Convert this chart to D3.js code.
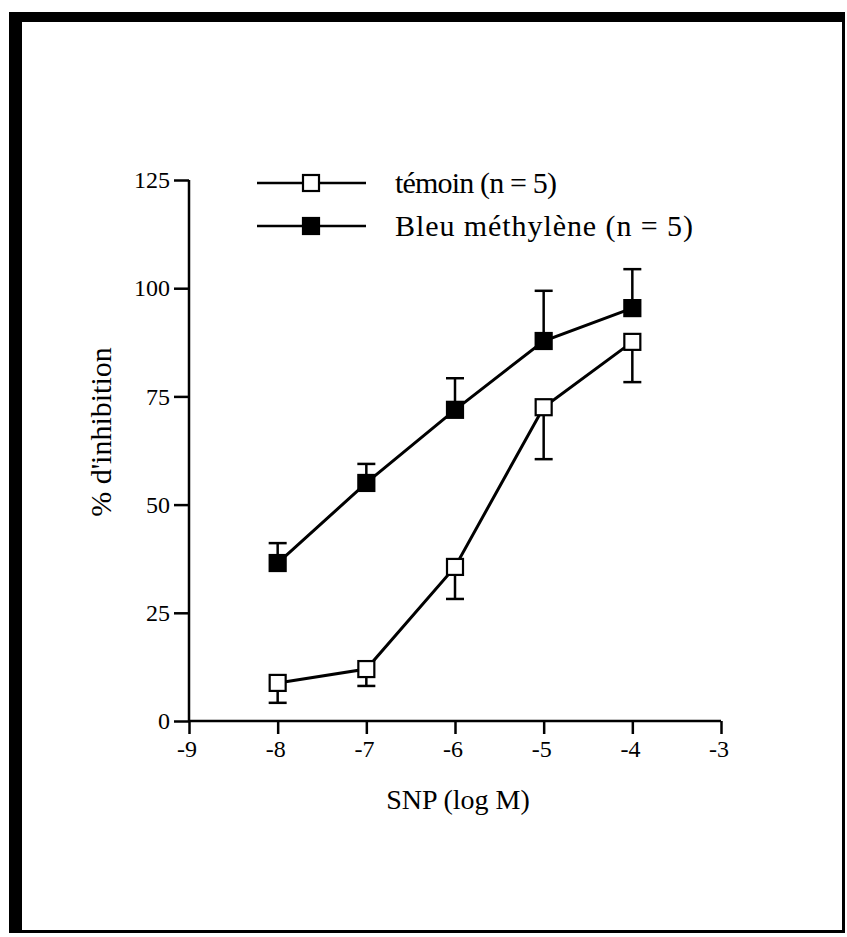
<!DOCTYPE html>
<html>
<head>
<meta charset="utf-8">
<script src="https://cdn.jsdelivr.net/npm/d3@7"></script>
<style>
	body { margin: 0; background: #fff; }
	svg { display: block; }
	text { font-family: "Liberation Serif", "Times New Roman", serif; fill: #000; }
</style>
</head>
<body>
<div id="chart"></div>
<script>

// data
const doses = [-8, -7, -6, -5, -4];
const temoinMean = [8.8, 12.0, 35.6, 72.5, 87.6];
const temoinErr = [4.6, 3.9, 7.4, 12.0, 9.3];
const bleuMean = [36.5, 55.0, 71.9, 87.8, 95.4];
const bleuErr = [4.6, 4.4, 7.3, 11.6, 9.0];
const xTicks = [-9, -8, -7, -6, -5, -4, -3];
const yTicks = [0, 25, 50, 75, 100, 125];
const legendLabels = ['témoin (n = 5)', 'Bleu méthylène (n = 5)'];

const w = 847;
const h = 937;

const svg = d3.select('#chart').append('svg')
	.attr('width', w)
	.attr('height', h);

// scanned page frame
svg.append('rect').attr('x', 9).attr('y', 12).attr('width', 13).attr('height', 921).attr('fill', '#000');
svg.append('rect').attr('x', 9).attr('y', 12).attr('width', 836).attr('height', 10).attr('fill', '#000');
svg.append('rect').attr('x', 842).attr('y', 12).attr('width', 3).attr('height', 921).attr('fill', '#000');
svg.append('rect').attr('x', 9).attr('y', 930).attr('width', 836).attr('height', 3).attr('fill', '#000');

const x = d3.scaleLinear().domain([-9, -3]).range([189, 721]);
const y = d3.scaleLinear().domain([0, 125]).range([721, 180]);

// axes (plain hyphen for negatives, as in the original)
const xAxis = svg.append('g')
	.attr('transform', `translate(0,${y(0)})`)
	.call(d3.axisBottom(x).tickValues(xTicks).tickSize(13).tickPadding(6).tickFormat(d => String(d)));
const yAxis = svg.append('g')
	.attr('transform', `translate(${x(-9)},0)`)
	.call(d3.axisLeft(y).tickValues(yTicks).tickSize(15).tickPadding(4));

[xAxis, yAxis].forEach(g => {
	g.select('.domain').attr('stroke', '#000').attr('stroke-width', 2.5);
	g.selectAll('.tick line').attr('stroke', '#000').attr('stroke-width', 2.5);
	g.selectAll('.tick text')
		.style('font-family', '"Liberation Serif", serif')
		.style('font-size', '24px')
		.attr('fill', '#000');
});
// axis path without the outer end ticks
xAxis.select('.domain').attr('d', `M${x(-9)},0H${x(-3)}`);
yAxis.select('.domain').attr('d', `M0,${y(0)}V${y(125)}`);
xAxis.selectAll('.tick text').attr('dx', '-0.1em');

svg.append('text')
	.attr('x', 458)
	.attr('y', 809)
	.attr('text-anchor', 'middle')
	.style('font-size', '28px')
	.text('SNP (log M)');

svg.append('text')
	.attr('transform', `translate(111,432) rotate(-90)`)
	.attr('text-anchor', 'middle')
	.style('font-size', '30px')
	.text("% d'inhibition");

const series = [
	{ mean: temoinMean, err: temoinErr, fill: '#fff', dir: -1 },
	{ mean: bleuMean, err: bleuErr, fill: '#000', dir: 1 }
];

const line = d3.line()
	.x((d, i) => x(doses[i]))
	.y(d => y(d));

series.forEach(s => {
	const g = svg.append('g');

	// error bars, one side only
	g.selectAll('line.err')
		.data(s.mean)
		.join('line')
		.attr('class', 'err')
		.attr('x1', (d, i) => x(doses[i]))
		.attr('x2', (d, i) => x(doses[i]))
		.attr('y1', d => y(d))
		.attr('y2', (d, i) => y(d + s.dir * s.err[i]))
		.attr('stroke', '#000')
		.attr('stroke-width', 2.5);
	g.selectAll('line.cap')
		.data(s.mean)
		.join('line')
		.attr('class', 'cap')
		.attr('x1', (d, i) => x(doses[i]) - 9)
		.attr('x2', (d, i) => x(doses[i]) + 9)
		.attr('y1', (d, i) => y(d + s.dir * s.err[i]))
		.attr('y2', (d, i) => y(d + s.dir * s.err[i]))
		.attr('stroke', '#000')
		.attr('stroke-width', 2.5);

	g.append('path')
		.attr('d', line(s.mean))
		.attr('fill', 'none')
		.attr('stroke', '#000')
		.attr('stroke-width', 3);

	g.selectAll('rect')
		.data(s.mean)
		.join('rect')
		.attr('x', (d, i) => x(doses[i]) - 8)
		.attr('y', d => y(d) - 8)
		.attr('width', 16)
		.attr('height', 16)
		.attr('fill', s.fill)
		.attr('stroke', '#000')
		.attr('stroke-width', 2.2);
});

// legend
const legend = svg.append('g');
const legendY = [183, 226];
const legendWidth = [162, 298];
series.forEach((s, i) => {
	legend.append('line')
		.attr('x1', 257).attr('x2', 366)
		.attr('y1', legendY[i]).attr('y2', legendY[i])
		.attr('stroke', '#000').attr('stroke-width', 2.5);
	legend.append('rect')
		.attr('x', 303).attr('y', legendY[i] - 8)
		.attr('width', 16).attr('height', 16)
		.attr('fill', s.fill).attr('stroke', '#000').attr('stroke-width', 2.2);
	legend.append('text')
		.attr('x', 395)
		.attr('y', legendY[i] + 10)
		.attr('textLength', legendWidth[i])
		.attr('lengthAdjust', 'spacing')
		.style('font-size', '30px')
		.text(legendLabels[i]);
});

</script>
</body>
</html>
